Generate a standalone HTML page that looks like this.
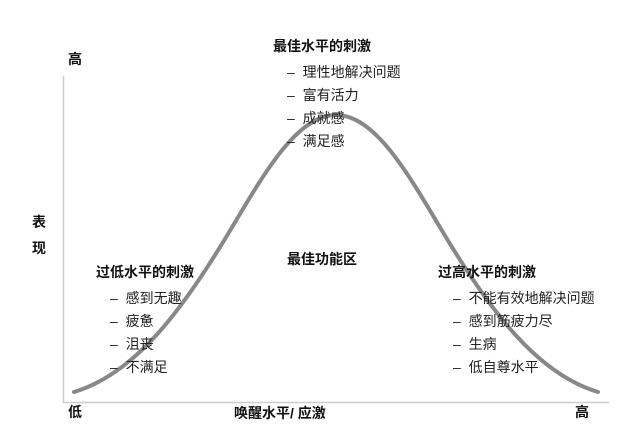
<!DOCTYPE html>
<html><head><meta charset="utf-8"><style>
body{margin:0;width:626px;height:446px;background:#fff;position:relative;overflow:hidden;font-family:"Liberation Sans","Noto Sans CJK SC",sans-serif;color:#222}
.t{position:absolute;font-size:14px;line-height:16px;white-space:nowrap}
.b{font-weight:bold;color:#111}
</style></head><body>
<svg width="626" height="446" style="position:absolute;left:0;top:0">
<line x1="63.5" y1="76" x2="63.5" y2="403" stroke="#ccc" stroke-width="1.5"/>
<line x1="63" y1="402.5" x2="609" y2="402.5" stroke="#ccc" stroke-width="1.5"/>
<path fill="none" stroke="#888" stroke-width="4" stroke-linecap="round" d="M74,392 C134,374 181,313 231,229 C266,170 298,115 336,115 C374,115 406,170 441,229 C491,313 538,374 598,392"/>
</svg>
<div class="t b" style="left:68px;top:51px">高</div>
<div class="t b" style="left:32px;top:214px">表</div>
<div class="t b" style="left:32px;top:240px">现</div>
<div class="t b" style="left:273px;top:38px">最佳水平的刺激</div>
<div class="t" style="left:287px;top:64px">–&nbsp;&nbsp;理性地解决问题</div>
<div class="t" style="left:287px;top:87px">–&nbsp;&nbsp;富有活力</div>
<div class="t" style="left:287px;top:110px">–&nbsp;&nbsp;成就感</div>
<div class="t" style="left:287px;top:133px">–&nbsp;&nbsp;满足感</div>
<div class="t b" style="left:287px;top:251px">最佳功能区</div>
<div class="t b" style="left:96px;top:264px">过低水平的刺激</div>
<div class="t" style="left:110px;top:290px">–&nbsp;&nbsp;感到无趣</div>
<div class="t" style="left:110px;top:313px">–&nbsp;&nbsp;疲惫</div>
<div class="t" style="left:110px;top:336px">–&nbsp;&nbsp;沮丧</div>
<div class="t" style="left:110px;top:359px">–&nbsp;&nbsp;不满足</div>
<div class="t b" style="left:438px;top:264px">过高水平的刺激</div>
<div class="t" style="left:453px;top:290px">–&nbsp;&nbsp;不能有效地解决问题</div>
<div class="t" style="left:453px;top:313px">–&nbsp;&nbsp;感到筋疲力尽</div>
<div class="t" style="left:453px;top:336px">–&nbsp;&nbsp;生病</div>
<div class="t" style="left:453px;top:359px">–&nbsp;&nbsp;低自尊水平</div>
<div class="t b" style="left:68px;top:404px">低</div>
<div class="t b" style="left:234px;top:405px">唤醒水平/ 应激</div>
<div class="t b" style="left:575px;top:404px">高</div>
</body></html>
